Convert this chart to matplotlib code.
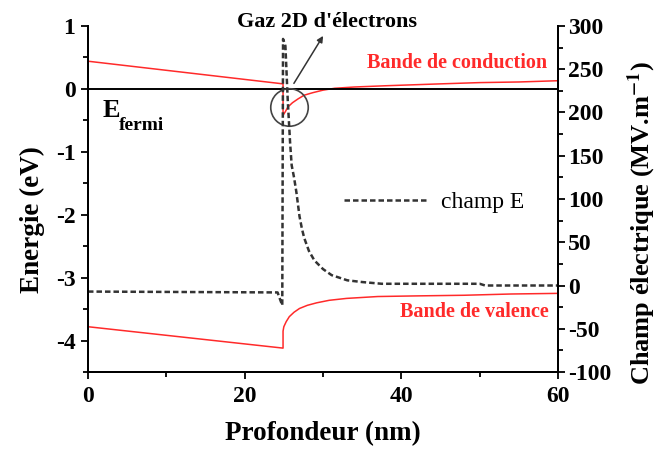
import matplotlib
matplotlib.use("Agg")
import matplotlib.pyplot as plt
from matplotlib.ticker import MultipleLocator

plt.rcParams['font.family'] = ['Liberation Serif', 'DejaVu Serif']
plt.rcParams['mathtext.fontset'] = 'stix'
plt.rcParams['axes.unicode_minus'] = False

# depth (nm) and band energies (eV)
cb_x = [0, 24.9, 24.9, 25.2, 25.5, 26.1, 26.8, 27.6, 28.7, 30.0, 31.5, 34, 38, 45, 50, 55, 60]
cb_y = [0.44, 0.08, -0.42, -0.36, -0.29, -0.22, -0.16, -0.10, -0.06, -0.02, 0.01, 0.03, 0.05, 0.08, 0.10, 0.11, 0.13]
vb_x = [0, 24.9, 24.9, 25.0, 25.3, 25.7, 26.3, 27.0, 28.0, 29.2, 30.8, 33, 37, 42, 48, 54, 60]
vb_y = [-3.78, -4.12, -3.85, -3.78, -3.70, -3.62, -3.55, -3.49, -3.44, -3.40, -3.36, -3.33, -3.30, -3.29, -3.28, -3.26, -3.25]

# electric field (MV/m)
ef_x = [0, 24.2, 24.8, 24.9, 25.2, 25.5, 25.8, 26.0, 26.3, 26.6, 27.0, 27.3, 27.6, 28.2, 28.9, 30.0,
        31.1, 33.1, 35.0, 37.5, 45, 50, 50.7, 60]
ef_y = [-7, -8, -23, 285, 277, 214, 165, 139, 125, 108, 80, 66, 55, 40, 29, 19,
        12, 6, 4, 2, 2, 2, 0, 0]

red = '#ff2a2a'
tick_font = dict(family='Liberation Serif', weight='bold', size=17)

fig = plt.figure(figsize=(6.6, 4.59), dpi=100)
ax = fig.add_axes([0.1333, 0.1895, 0.7122, 0.7539])
ax2 = ax.twinx()

ax.plot(cb_x, cb_y, color=red, lw=1.1)
ax.plot(vb_x, vb_y, color=red, lw=1.1)
ax.axhline(0, color='black', lw=1.4)

ax2.plot(ef_x, ef_y, color='#333333', lw=1.8, dashes=(2.2, 1.2), label='champ E')

ax.set_xlim(0, 60)
ax.set_ylim(-4.5, 1)
ax2.set_ylim(-100, 300)

ax.xaxis.set_major_locator(MultipleLocator(20))
ax.xaxis.set_minor_locator(MultipleLocator(10))
ax.yaxis.set_major_locator(MultipleLocator(1))
ax.yaxis.set_minor_locator(MultipleLocator(0.5))
ax2.yaxis.set_major_locator(MultipleLocator(50))
ax2.yaxis.set_minor_locator(MultipleLocator(25))

for a in (ax, ax2):
    a.spines['top'].set_visible(False)
    for s in a.spines.values():
        s.set_linewidth(1.4)
    a.tick_params(which='major', direction='out', length=5, width=1.3)
    a.tick_params(which='minor', direction='out', length=3.5, width=1.3)
    for lab in a.get_xticklabels() + a.get_yticklabels():
        lab.set_fontproperties(tick_font)
ax.tick_params(axis='y', pad=4)
ax2.tick_params(axis='y', pad=2)
ax.tick_params(axis='x', pad=5)

ax.set_xlabel('Profondeur (nm)', fontsize=19.5, fontweight='bold', labelpad=10)
ax.set_ylabel('Energie (eV)', fontsize=19.5, fontweight='bold')
ax2.set_ylabel(r'Champ électrique (MV.m$^{\mathbf{-1}}$)', fontsize=19, fontweight='bold')
ax.yaxis.set_label_coords(-0.092, 0.44)
ax2.yaxis.set_label_coords(1.144, 0.43)

# annotations
ax.text(1.8, -0.44, 'E', fontsize=19, fontweight='bold')
ax.text(3.95, -0.66, 'fermi', fontsize=14, fontweight='bold')
ax.text(58.6, 0.33, 'Bande de conduction', color=red, fontsize=14.5, fontweight='bold', ha='right')
ax.text(58.8, -3.62, 'Bande de valence', color=red, fontsize=14.5, fontweight='bold', ha='right')

ax.plot([25.67], [-0.28], 'o', mfc='none', mec='#444444', mew=1.2, ms=27)
ax.annotate('', xy=(30.2, 0.88), xytext=(26.1, 0.05),
            arrowprops=dict(arrowstyle='-|>', color='#333333', lw=1.1, mutation_scale=9))
ax.text(19.0, 0.98, "Gaz 2D d'électrons", fontsize=16, fontweight='bold', clip_on=False)

ax2.legend(loc='center left', bbox_to_anchor=(0.545, 0.49), frameon=False,
           prop=dict(family='Liberation Serif', size=17), handlelength=3.6,
           handletextpad=0.5, borderpad=0, borderaxespad=0)

fig.savefig('out.png', dpi=100)
